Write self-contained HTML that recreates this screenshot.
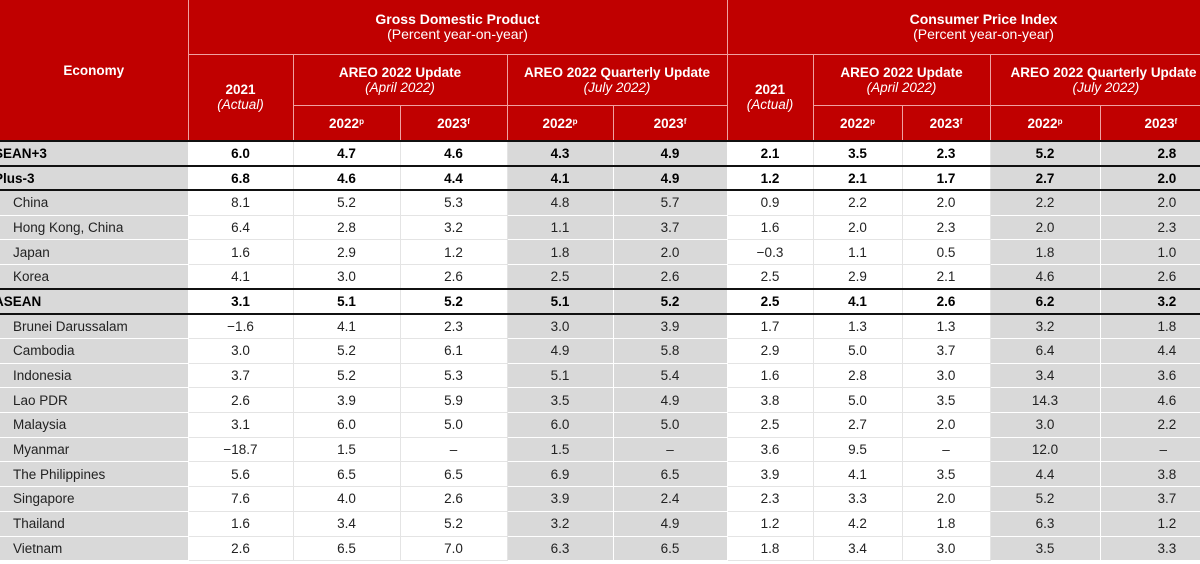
<!DOCTYPE html>
<html><head><meta charset="utf-8"><style>
*{margin:0;padding:0;box-sizing:border-box}
body{width:1200px;height:564px;overflow:hidden;background:#fff;font-family:"Liberation Sans",Arial,sans-serif;}
table{position:absolute;left:0;top:0;border-collapse:collapse;table-layout:fixed;width:1240px}
th{background:#c00000;color:#fff;font-size:13.5px;font-weight:bold;border:1px solid #f0a0a0;text-align:center;line-height:15px;vertical-align:middle}
th.top{font-size:14px}
th i{font-weight:normal}
td{height:24.7px;font-size:13.5px;color:#222;text-align:center;border:1px solid #e4e4e4;padding:0}
td.l{background:#d9d9d9;text-align:left;padding-left:13px;border-color:#fff;border-left:none}
td.g{background:#d9d9d9;border-color:#fff}
td.z{text-align:left;padding-left:57px}
tr.b td{font-weight:bold;color:#000}
tr.b td.l{padding-left:0;text-indent:-6px}
tr.k td{border-bottom:2px solid #111}
tr.t td{border-top:2px solid #111}
sup{font-size:8px;vertical-align:4px}
</style></head><body>
<table>
<colgroup><col style="width:188px"><col style="width:105px"><col style="width:107px"><col style="width:107px"><col style="width:106px"><col style="width:114px"><col style="width:86px"><col style="width:89px"><col style="width:88px"><col style="width:110px"><col style="width:140px"></colgroup>
<tr style="height:54px"><th rowspan="3" style="border-left:none;border-top:none">Economy</th><th colspan="5" class="top" style="border-top:none">Gross Domestic Product<br><span style="font-weight:normal">(Percent year-on-year)</span></th><th colspan="5" class="top" style="border-top:none">Consumer Price Index<br><span style="font-weight:normal">(Percent year-on-year)</span></th></tr>
<tr style="height:51px"><th rowspan="2">2021<br><i>(Actual)</i></th><th colspan="2">AREO 2022 Update<br><i>(April 2022)</i></th><th colspan="2">AREO 2022 Quarterly Update<br><i>(July 2022)</i></th><th rowspan="2">2021<br><i>(Actual)</i></th><th colspan="2">AREO 2022 Update<br><i>(April 2022)</i></th><th colspan="2" style="text-align:left;padding-left:20px">AREO 2022 Quarterly Update<br><i style="padding-left:62px">(July 2022)</i></th></tr>
<tr style="height:36px"><th>2022<sup>p</sup></th><th>2023<sup>f</sup></th><th>2022<sup>p</sup></th><th>2023<sup>f</sup></th><th>2022<sup>p</sup></th><th>2023<sup>f</sup></th><th>2022<sup>p</sup></th><th style="text-align:left;padding-left:44px">2023<sup>f</sup></th></tr>
<tr class="b k t"><td class="l">SEAN+3</td><td>6.0</td><td>4.7</td><td>4.6</td><td class="g">4.3</td><td class="g">4.9</td><td>2.1</td><td>3.5</td><td>2.3</td><td class="g">5.2</td><td class="g z">2.8</td></tr>
<tr class="b k"><td class="l">Plus-3</td><td>6.8</td><td>4.6</td><td>4.4</td><td class="g">4.1</td><td class="g">4.9</td><td>1.2</td><td>2.1</td><td>1.7</td><td class="g">2.7</td><td class="g z">2.0</td></tr>
<tr><td class="l">China</td><td>8.1</td><td>5.2</td><td>5.3</td><td class="g">4.8</td><td class="g">5.7</td><td>0.9</td><td>2.2</td><td>2.0</td><td class="g">2.2</td><td class="g z">2.0</td></tr>
<tr><td class="l">Hong Kong, China</td><td>6.4</td><td>2.8</td><td>3.2</td><td class="g">1.1</td><td class="g">3.7</td><td>1.6</td><td>2.0</td><td>2.3</td><td class="g">2.0</td><td class="g z">2.3</td></tr>
<tr><td class="l">Japan</td><td>1.6</td><td>2.9</td><td>1.2</td><td class="g">1.8</td><td class="g">2.0</td><td>−0.3</td><td>1.1</td><td>0.5</td><td class="g">1.8</td><td class="g z">1.0</td></tr>
<tr class="k"><td class="l">Korea</td><td>4.1</td><td>3.0</td><td>2.6</td><td class="g">2.5</td><td class="g">2.6</td><td>2.5</td><td>2.9</td><td>2.1</td><td class="g">4.6</td><td class="g z">2.6</td></tr>
<tr class="b k"><td class="l">ASEAN</td><td>3.1</td><td>5.1</td><td>5.2</td><td class="g">5.1</td><td class="g">5.2</td><td>2.5</td><td>4.1</td><td>2.6</td><td class="g">6.2</td><td class="g z">3.2</td></tr>
<tr><td class="l">Brunei Darussalam</td><td>−1.6</td><td>4.1</td><td>2.3</td><td class="g">3.0</td><td class="g">3.9</td><td>1.7</td><td>1.3</td><td>1.3</td><td class="g">3.2</td><td class="g z">1.8</td></tr>
<tr><td class="l">Cambodia</td><td>3.0</td><td>5.2</td><td>6.1</td><td class="g">4.9</td><td class="g">5.8</td><td>2.9</td><td>5.0</td><td>3.7</td><td class="g">6.4</td><td class="g z">4.4</td></tr>
<tr><td class="l">Indonesia</td><td>3.7</td><td>5.2</td><td>5.3</td><td class="g">5.1</td><td class="g">5.4</td><td>1.6</td><td>2.8</td><td>3.0</td><td class="g">3.4</td><td class="g z">3.6</td></tr>
<tr><td class="l">Lao PDR</td><td>2.6</td><td>3.9</td><td>5.9</td><td class="g">3.5</td><td class="g">4.9</td><td>3.8</td><td>5.0</td><td>3.5</td><td class="g">14.3</td><td class="g z">4.6</td></tr>
<tr><td class="l">Malaysia</td><td>3.1</td><td>6.0</td><td>5.0</td><td class="g">6.0</td><td class="g">5.0</td><td>2.5</td><td>2.7</td><td>2.0</td><td class="g">3.0</td><td class="g z">2.2</td></tr>
<tr><td class="l">Myanmar</td><td>−18.7</td><td>1.5</td><td>–</td><td class="g">1.5</td><td class="g">–</td><td>3.6</td><td>9.5</td><td>–</td><td class="g">12.0</td><td class="g z" style="padding-left:59px">–</td></tr>
<tr><td class="l">The Philippines</td><td>5.6</td><td>6.5</td><td>6.5</td><td class="g">6.9</td><td class="g">6.5</td><td>3.9</td><td>4.1</td><td>3.5</td><td class="g">4.4</td><td class="g z">3.8</td></tr>
<tr><td class="l">Singapore</td><td>7.6</td><td>4.0</td><td>2.6</td><td class="g">3.9</td><td class="g">2.4</td><td>2.3</td><td>3.3</td><td>2.0</td><td class="g">5.2</td><td class="g z">3.7</td></tr>
<tr><td class="l">Thailand</td><td>1.6</td><td>3.4</td><td>5.2</td><td class="g">3.2</td><td class="g">4.9</td><td>1.2</td><td>4.2</td><td>1.8</td><td class="g">6.3</td><td class="g z">1.2</td></tr>
<tr style="border-bottom:1px solid #333"><td class="l">Vietnam</td><td>2.6</td><td>6.5</td><td>7.0</td><td class="g">6.3</td><td class="g">6.5</td><td>1.8</td><td>3.4</td><td>3.0</td><td class="g">3.5</td><td class="g z">3.3</td></tr>
</table>
</body></html>
